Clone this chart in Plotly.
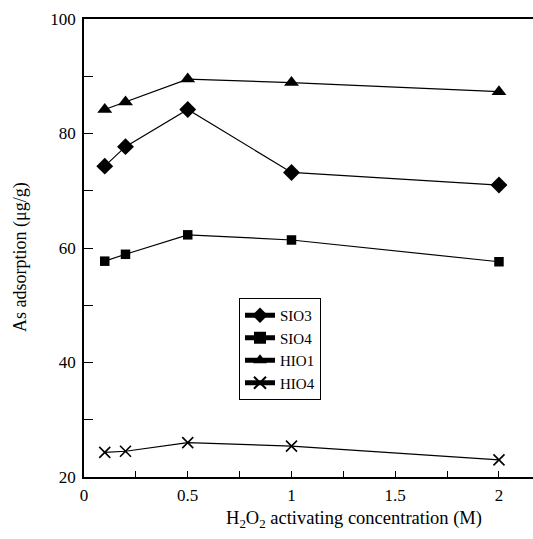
import plotly.graph_objects as go

conc = [0.1, 0.2, 0.5, 1.0, 2.0]
sio3 = [74.3, 77.7, 84.2, 73.2, 71.0]
sio4 = [57.7, 58.9, 62.3, 61.4, 57.6]
hio1 = [84.2, 85.5, 89.5, 88.9, 87.3]
hio4 = [24.3, 24.5, 26.0, 25.4, 23.0]

x_ticks = [0, 0.5, 1, 1.5, 2]
x_tick_labels = ["0", "0.5", "1", "1.5", "2"]
y_ticks = [20, 40, 60, 80, 100]

FONT = "Liberation Serif, Times New Roman, serif"

series = [
    ("SIO3", sio3, dict(symbol="diamond", size=13, color="black")),
    ("SIO4", sio4, dict(symbol="square", size=9.5, color="black")),
    ("HIO1", hio1, dict(symbol="triangle-up", size=13, color="black")),
    ("HIO4", hio4, dict(symbol="x-thin-open", size=11, color="black",
                        line=dict(color="black", width=1.6))),
]

fig = go.Figure()
for name, vals, mk in series:
    fig.add_trace(go.Scatter(x=conc, y=vals, name=name, mode="lines+markers",
                             line=dict(color="black", width=1.2), marker=mk))

fig.update_layout(
    width=533, height=539,
    margin=dict(l=84, r=0, t=19, b=62),
    paper_bgcolor="white", plot_bgcolor="white",
    font=dict(family=FONT, size=16, color="black"),
    showlegend=True,
    legend=dict(x=(239 - 84) / 449, y=(477 - 298) / 458, xanchor="left", yanchor="top",
                bgcolor="white", bordercolor="black", borderwidth=1,
                font=dict(family=FONT, size=15), tracegroupgap=0,
                itemsizing="constant"),
    xaxis=dict(range=[0, 2.164], tickvals=x_ticks, ticktext=x_tick_labels,
               ticks="inside", ticklen=6, tickwidth=1, tickcolor="black",
               minor=dict(dtick=0.25, tick0=0, ticks="inside", ticklen=6, tickcolor="black"),
               showline=True, linecolor="black", linewidth=1.5, mirror=True,
               showgrid=False, zeroline=False, ticklabelstandoff=2,
               tickfont=dict(family=FONT, size=17)),
    yaxis=dict(range=[20, 100], tickvals=y_ticks,
               ticks="inside", ticklen=9, tickwidth=1, tickcolor="black",
               minor=dict(dtick=10, tick0=0, ticks="inside", ticklen=9, tickcolor="black"),
               showline=True, linecolor="black", linewidth=1.5, mirror=False,
               showgrid=False, zeroline=False, ticklabelstandoff=3,
               tickfont=dict(family=FONT, size=17)),
    annotations=[
        dict(text="H<sub>2</sub>O<sub>2</sub> activating concentration (M)",
             xref="paper", yref="paper", x=(354 - 84) / 449, y=(477 - 519) / 458,
             xanchor="center", yanchor="middle", showarrow=False,
             font=dict(family=FONT, size=18.5)),
        dict(text="As adsorption (μg/g)", textangle=-90,
             xref="paper", yref="paper", x=(20 - 84) / 449, y=(477 - 257) / 458,
             xanchor="center", yanchor="middle", showarrow=False,
             font=dict(family=FONT, size=18)),
    ],
)

fig.write_html("out.html")
